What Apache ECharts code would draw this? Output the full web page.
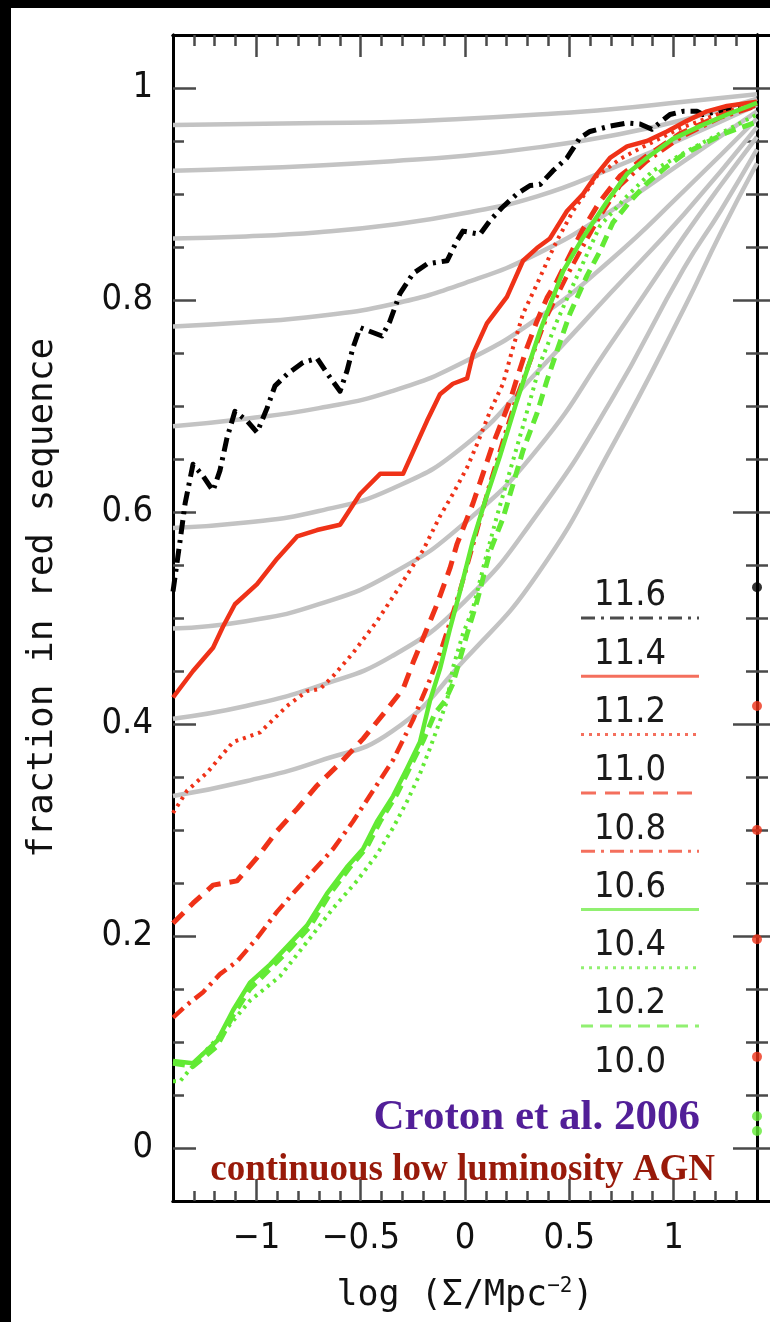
<!DOCTYPE html>
<html>
<head>
<meta charset="utf-8">
<script src="https://cdn.jsdelivr.net/npm/echarts@6/dist/echarts.min.js"></script>
<style>
  html, body { margin: 0; padding: 0; background: #fff; }
  #chart { width: 770px; height: 1322px; }
</style>
</head>
<body>
<div id="chart"></div>
<script>
// ---- axis ticks and labels ----
const xMajorTicks = [-1, -0.5, 0, 0.5, 1];
const xTickLabels = ['\u22121', '\u22120.5', '0', '0.5', '1'];
const xMinorTicks = [-1.3, -1.2, -1.1, -0.9, -0.8, -0.7, -0.6, -0.4, -0.3, -0.2, -0.1,
                     0.1, 0.2, 0.3, 0.4, 0.6, 0.7, 0.8, 0.9, 1.1, 1.2, 1.3];
const yMajorTicks = [0, 0.2, 0.4, 0.6, 0.8, 1];
const yTickLabels = ['0', '0.2', '0.4', '0.6', '0.8', '1'];
const yMinorTicks = [0.05, 0.1, 0.15, 0.25, 0.3, 0.35, 0.45, 0.5, 0.55,
                     0.65, 0.7, 0.75, 0.85, 0.9, 0.95];

// ---- stellar-mass bins (log M*) ----
const massBins = ['11.6', '11.4', '11.2', '11.0', '10.8', '10.6', '10.4', '10.2', '10.0'];

// red-sequence fraction vs log surface density, one array per mass bin
const frac116 = [[-1.400,0.525],[-1.366,0.573],[-1.342,0.608],[-1.304,0.645],[-1.256,0.634],[-1.208,0.620],
  [-1.175,0.639],[-1.141,0.670],[-1.103,0.695],[-1.045,0.686],[-0.997,0.675],[-0.949,0.698],[-0.911,0.719],
  [-0.853,0.730],[-0.777,0.741],[-0.709,0.745],[-0.662,0.731],[-0.599,0.714],[-0.566,0.733],[-0.537,0.755],
  [-0.503,0.774],[-0.398,0.766],[-0.360,0.780],[-0.312,0.806],[-0.249,0.825],[-0.182,0.834],[-0.086,0.837],
  [-0.038,0.856],[-0.010,0.865],[0.072,0.862],[0.120,0.875],[0.177,0.887],[0.249,0.900],[0.312,0.908],
  [0.360,0.909],[0.422,0.922],[0.489,0.934],[0.551,0.953],[0.599,0.959],[0.695,0.964],[0.777,0.967],
  [0.839,0.966],[0.896,0.961],[0.944,0.969],[0.983,0.975],[1.045,0.978],[1.112,0.978],[1.141,0.975],
  [1.270,0.980],[1.342,0.984]];
const frac114 = [[-1.400,0.425],[-1.304,0.450],[-1.208,0.472],[-1.160,0.492],[-1.103,0.513],[-0.997,0.532],
  [-0.901,0.556],[-0.805,0.577],[-0.709,0.583],[-0.599,0.588],[-0.503,0.617],[-0.407,0.636],[-0.297,0.636],
  [-0.182,0.686],[-0.120,0.711],[-0.058,0.721],[0.010,0.726],[0.038,0.749],[0.105,0.778],[0.201,0.803],
  [0.278,0.837],[0.345,0.849],[0.407,0.858],[0.489,0.884],[0.566,0.900],[0.633,0.919],[0.695,0.934],
  [0.777,0.945],[0.872,0.950],[0.968,0.959],[1.064,0.969],[1.160,0.978],[1.256,0.983],[1.400,0.987]];
const frac112 = [[-1.400,0.316],[-1.333,0.337],[-1.237,0.354],[-1.112,0.383],[-0.983,0.392],[-0.853,0.417],
  [-0.757,0.431],[-0.695,0.433],[-0.633,0.445],[-0.537,0.467],[-0.422,0.497],[-0.312,0.530],[-0.201,0.564],
  [-0.120,0.596],[-0.058,0.617],[0.010,0.642],[0.058,0.664],[0.120,0.695],[0.182,0.721],[0.230,0.755],
  [0.278,0.787],[0.345,0.815],[0.407,0.842],[0.441,0.856],[0.518,0.884],[0.633,0.917],[0.743,0.933],
  [0.839,0.943],[1.031,0.962],[1.222,0.976],[1.400,0.985]];
const frac110 = [[-1.400,0.212],[-1.304,0.231],[-1.208,0.248],[-1.093,0.252],[-0.997,0.274],[-0.901,0.299],
  [-0.805,0.320],[-0.709,0.342],[-0.599,0.363],[-0.489,0.386],[-0.393,0.409],[-0.297,0.433],[-0.249,0.458],
  [-0.182,0.490],[-0.134,0.513],[-0.072,0.547],[-0.038,0.570],[0.038,0.608],[0.086,0.636],[0.134,0.664],
  [0.216,0.705],[0.249,0.726],[0.297,0.755],[0.345,0.780],[0.393,0.802],[0.441,0.818],[0.489,0.837],
  [0.566,0.867],[0.647,0.893],[0.743,0.917],[0.872,0.936],[1.031,0.957],[1.222,0.974],[1.400,0.984]];
const frac108 = [[-1.400,0.123],[-1.333,0.135],[-1.256,0.147],[-1.175,0.164],[-1.093,0.176],[-0.997,0.198],
  [-0.901,0.223],[-0.825,0.240],[-0.729,0.261],[-0.633,0.282],[-0.537,0.308],[-0.441,0.337],[-0.345,0.366],
  [-0.249,0.404],[-0.168,0.442],[-0.120,0.467],[-0.072,0.496],[-0.024,0.526],[0.024,0.559],[0.072,0.593],
  [0.120,0.627],[0.182,0.667],[0.249,0.709],[0.312,0.742],[0.393,0.785],[0.489,0.823],[0.566,0.851],
  [0.647,0.879],[0.743,0.908],[0.872,0.931],[1.031,0.953],[1.222,0.972],[1.400,0.983]];
const frac106 = [[-1.400,0.082],[-1.304,0.080],[-1.189,0.101],[-1.112,0.130],[-1.031,0.156],[-0.935,0.173],
  [-0.853,0.190],[-0.757,0.210],[-0.662,0.240],[-0.566,0.265],[-0.489,0.282],[-0.422,0.308],[-0.345,0.332],
  [-0.278,0.358],[-0.216,0.383],[-0.168,0.422],[-0.120,0.452],[-0.072,0.490],[-0.024,0.525],[0.038,0.573],
  [0.096,0.610],[0.168,0.653],[0.249,0.705],[0.360,0.771],[0.470,0.827],[0.566,0.859],[0.681,0.893],
  [0.777,0.919],[0.872,0.934],[0.997,0.952],[1.127,0.964],[1.256,0.975],[1.400,0.986]];
const frac104 = [[-1.400,0.063],[-1.366,0.063],[-1.256,0.089],[-1.141,0.113],[-1.031,0.139],[-0.887,0.162],
  [-0.743,0.198],[-0.633,0.226],[-0.518,0.252],[-0.422,0.277],[-0.345,0.302],[-0.278,0.327],[-0.216,0.353],
  [-0.168,0.377],[-0.120,0.403],[-0.086,0.422],[-0.058,0.453],[-0.010,0.485],[0.038,0.509],[0.096,0.554],
  [0.153,0.596],[0.216,0.639],[0.278,0.681],[0.364,0.742],[0.441,0.780],[0.527,0.818],[0.647,0.870],
  [0.777,0.898],[0.901,0.922],[1.079,0.942],[1.222,0.957],[1.400,0.975]];
const frac102 = [[-1.400,0.080],[-1.304,0.077],[-1.189,0.096],[-1.112,0.125],[-1.031,0.150],[-0.935,0.169],
  [-0.839,0.188],[-0.743,0.209],[-0.647,0.240],[-0.551,0.265],[-0.470,0.284],[-0.407,0.308],[-0.326,0.334],
  [-0.264,0.359],[-0.201,0.384],[-0.144,0.410],[-0.096,0.422],[-0.058,0.438],[0.010,0.485],[0.058,0.516],
  [0.120,0.563],[0.182,0.594],[0.230,0.626],[0.278,0.658],[0.345,0.693],[0.393,0.724],[0.441,0.752],
  [0.503,0.787],[0.585,0.823],[0.647,0.846],[0.709,0.873],[0.791,0.893],[0.872,0.910],[0.968,0.926],
  [1.045,0.937],[1.160,0.949],[1.256,0.958],[1.400,0.968]];

// grey model tracks, sampled every 0.35 dex
const trackX = [-1.4, -1.05, -0.7, -0.35, 0, 0.35, 0.7, 1.05, 1.4];
const trackX9 = [-1.4, -1.05, -0.7, -0.35, 0, 0.35, 0.7, 1.05, 1.225, 1.4];
const track1 = [0.965, 0.966, 0.967, 0.968, 0.971, 0.975, 0.980, 0.987, 0.994];
const track2 = [0.922, 0.924, 0.927, 0.931, 0.936, 0.944, 0.955, 0.970, 0.990];
const track3 = [0.858, 0.860, 0.864, 0.871, 0.882, 0.898, 0.924, 0.953, 0.984];
const track4 = [0.775, 0.779, 0.785, 0.796, 0.816, 0.844, 0.884, 0.931, 0.978];
const track5 = [0.681, 0.688, 0.698, 0.714, 0.742, 0.783, 0.838, 0.903, 0.971];
const track6 = [0.585, 0.590, 0.601, 0.622, 0.663, 0.733, 0.807, 0.881, 0.963];
const track7 = [0.490, 0.497, 0.513, 0.542, 0.590, 0.660, 0.759, 0.860, 0.908, 0.954];
const track8 = [0.405, 0.417, 0.436, 0.464, 0.516, 0.599, 0.705, 0.830, 0.884, 0.942];
const track9 = [0.332, 0.346, 0.365, 0.393, 0.461, 0.542, 0.660, 0.792, 0.863, 0.929];

// first points of the neighbouring panel, at its lowest density
const nextPanelBlack = [0.529];
const nextPanelRed = [0.417, 0.300, 0.197, 0.086];
const nextPanelGreen = [0.030, 0.016];

// ---- styles ----
const RED = '#ef3218';
const GREEN = '#62ea34';
const DASHDOT = [14, 6, 3, 6];
const DOTTED = [3, 5];
const DASHED = [15, 9];
const binStyles = [
  { data: frac116, color: '#000000', type: DASHDOT, width: 5 },
  { data: frac114, color: RED, type: 'solid', width: 4.5 },
  { data: frac112, color: RED, type: DOTTED, width: 4 },
  { data: frac110, color: RED, type: DASHED, width: 5 },
  { data: frac108, color: RED, type: DASHDOT, width: 4.5 },
  { data: frac106, color: GREEN, type: 'solid', width: 4.5 },
  { data: frac104, color: GREEN, type: DOTTED, width: 4 },
  { data: frac102, color: GREEN, type: [12, 7], width: 5 }
];
const tracks = [track1, track2, track3, track4, track5, track6, track7, track8, track9];

const X_MIN = -1.4, X_MAX = 1.4, Y_MIN = -0.05, Y_MAX = 1.05;
const NUM_FONT = '"DejaVu Sans Condensed", "DejaVu Sans", sans-serif';
const MONO_FONT = '"DejaVu Sans Mono", monospace';
const TICK_COLOR = '#4a4a4a';

function lookup(values, labels, v) {
  for (let i = 0; i < values.length; i++) if (Math.abs(values[i] - v) < 1e-9) return labels[i];
  return '';
}

function xAxisDef(gridIndex, position, ticks, len, extra) {
  return Object.assign({
    type: 'value', gridIndex, position, min: X_MIN, max: X_MAX,
    axisLine: { show: true, onZero: false, lineStyle: { color: '#000', width: 3 } },
    axisTick: ticks ? { show: true, inside: true, length: len, customValues: ticks,
                        lineStyle: { color: TICK_COLOR, width: 2.5 } } : { show: false },
    axisLabel: { show: false },
    splitLine: { show: false }
  }, extra || {});
}
function yAxisDef(gridIndex, position, ticks, len, extra) {
  return Object.assign({
    type: 'value', gridIndex, position, min: Y_MIN, max: Y_MAX,
    axisLine: { show: true, onZero: false, lineStyle: { color: '#000', width: 3 } },
    axisTick: { show: true, inside: true, length: len, customValues: ticks,
                lineStyle: { color: TICK_COLOR, width: 2.5 } },
    axisLabel: { show: false },
    splitLine: { show: false }
  }, extra || {});
}

const xAxes = [
  xAxisDef(0, 'bottom', xMajorTicks, 22, {
    axisLabel: { show: true, customValues: xMajorTicks, margin: 20,
                 formatter: v => lookup(xMajorTicks, xTickLabels, v),
                 fontFamily: NUM_FONT, fontSize: 36, color: '#111' },
    name: 'log (\u03a3/Mpc{sup|\u22122})', nameLocation: 'middle', nameGap: 75,
    nameTextStyle: { fontFamily: MONO_FONT, fontSize: 35, color: '#111', lineHeight: 40,
                     rich: { sup: { fontFamily: MONO_FONT, fontSize: 21, verticalAlign: 'top', lineHeight: 40, color: '#111' } } }
  }),
  xAxisDef(0, 'bottom', xMinorTicks, 10),
  xAxisDef(0, 'top', xMajorTicks, 22),
  xAxisDef(0, 'top', xMinorTicks, 11),
  xAxisDef(1, 'bottom', null, 0),
  xAxisDef(1, 'top', null, 0)
];
const yAxes = [
  yAxisDef(0, 'left', yMajorTicks, 23, {
    axisLabel: { show: true, customValues: yMajorTicks, margin: 20,
                 formatter: v => lookup(yMajorTicks, yTickLabels, v),
                 fontFamily: NUM_FONT, fontSize: 36, color: '#111' },
    name: 'fraction in red sequence', nameLocation: 'middle', nameGap: 112, nameRotate: 90,
    nameTextStyle: { fontFamily: MONO_FONT, fontSize: 36, color: '#111', padding: [0, 0, 0, 40] }
  }),
  yAxisDef(0, 'left', yMinorTicks, 11),
  yAxisDef(0, 'right', yMajorTicks, 24),
  yAxisDef(0, 'right', yMinorTicks, 11),
  yAxisDef(1, 'left', yMajorTicks, 24),
  yAxisDef(1, 'left', yMinorTicks, 11)
];

const series = [];
tracks.forEach((t, i) => {
  const xs = t.length === trackX.length ? trackX : trackX9;
  series.push({
    name: 'track' + (i + 1), type: 'line', xAxisIndex: 0, yAxisIndex: 0,
    data: t.map((v, k) => [xs[k], v]),
    showSymbol: false, smooth: 0.5, silent: true, z: 2,
    lineStyle: { color: '#c3c3c3', width: 4.5 }
  });
});
binStyles.forEach((s, i) => series.push({
  name: massBins[i], type: 'line', xAxisIndex: 0, yAxisIndex: 0, data: s.data,
  showSymbol: false, silent: true, z: 3 + i,
  lineStyle: { color: s.color, width: s.width, type: s.type, cap: 'butt', join: 'round' }
}));
const nextPanel = [[nextPanelBlack, '#000'], [nextPanelRed, RED], [nextPanelGreen, GREEN]];
nextPanel.forEach(([vals, col]) => series.push({
  type: 'scatter', xAxisIndex: 4, yAxisIndex: 4, clip: false, silent: true, z: 5,
  data: vals.map(v => [X_MIN, v]), symbolSize: 10, itemStyle: { color: col }
}));

// ---- legend (label above a sample of the line) ----
const legend = [];
const LEG_X0 = 581, LEG_X1 = 699, LEG_TX = 630, LEG_TY0 = 596, LEG_STEP = 58.3;
massBins.forEach((lab, i) => {
  const ty = LEG_TY0 + i * LEG_STEP;
  legend.push({ type: 'text', style: { text: lab, x: LEG_TX, y: ty, align: 'center', verticalAlign: 'middle',
    font: '36px ' + NUM_FONT, fill: '#1a1a1a' } });
  const s = binStyles[i];
  if (s) {
    legend.push({ type: 'line', shape: { x1: LEG_X0, y1: ty + 22, x2: LEG_X1, y2: ty + 22 },
      style: { stroke: s.color, lineWidth: 3, lineDash: s.type === 'solid' ? null : s.type, opacity: 0.7 } });
  }
});

const chart = echarts.init(document.getElementById('chart'), null, { renderer: 'canvas' });
chart.setOption({
  backgroundColor: '#ffffff',
  animation: false,
  grid: [
    { left: 173, top: 35, width: 584, height: 1166, containLabel: false },
    { left: 757, top: 35, width: 584, height: 1166, containLabel: false }
  ],
  xAxis: xAxes,
  yAxis: yAxes,
  series: series,
  graphic: [
    { type: 'rect', shape: { x: 0, y: 0, width: 11, height: 1322 }, style: { fill: '#000' }, z: 100 },
    { type: 'rect', shape: { x: 0, y: 0, width: 770, height: 8 }, style: { fill: '#000' }, z: 100 },
    { type: 'group', children: legend, z: 50 },
    { type: 'text', z: 50, style: { text: 'Croton et al. 2006', x: 700, y: 1118, align: 'right', verticalAlign: 'middle',
      font: 'bold 43px "Liberation Serif", "Times New Roman", serif', fill: '#521f98' } },
    { type: 'text', z: 50, style: { text: 'continuous low luminosity AGN', x: 715, y: 1170, align: 'right', verticalAlign: 'middle',
      font: 'bold 37px "Liberation Serif", "Times New Roman", serif', fill: '#981a0a' } }
  ]
});
</script>
</body>
</html>
